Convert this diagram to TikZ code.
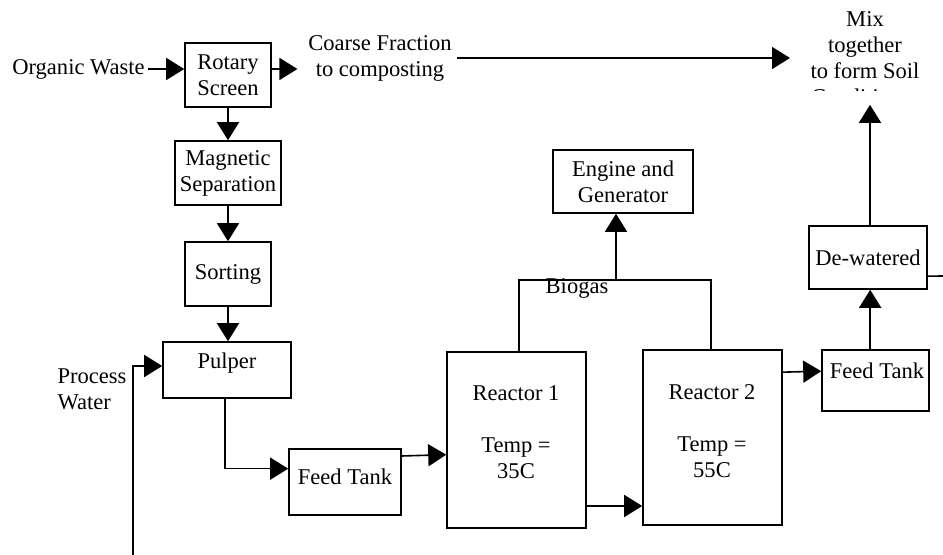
\documentclass[tikz,border=0pt]{standalone}
\usepackage{fontspec}
\setmainfont{Liberation Serif}
\usetikzlibrary{arrows.meta,calc}
\begin{document}
\begin{tikzpicture}[x=0.75pt,y=-0.75pt,
  font=\fontsize{16.9}{19.5}\selectfont,
  box/.style={draw,line width=1.2pt,inner sep=0pt,align=center},
  lbl/.style={inner sep=0pt,align=center},
  arr/.style={line width=1.2pt,-{Triangle[length=13.5pt,width=16.5pt]}},
  ln/.style={line width=1.2pt}]
\useasboundingbox (0,0) rectangle (943,555);
% boxes
\node[box,minimum width=64.5pt,minimum height=48pt] (rot) at (228,75) {Rotary\\Screen};
\node[box,minimum width=79.5pt,minimum height=48pt] (mag) at (228,173) {Magnetic\\Separation};
\node[box,minimum width=64.5pt,minimum height=48pt] (sort) at (228,274) {Sorting};
\node[box,minimum width=96pt,minimum height=42pt] (pulp) at (227,370) {};
\node[lbl] (pulpT) at (227,363) {Pulper};
\node[box,minimum width=84pt,minimum height=49.5pt] (ft1) at (345,482) {};
\node[lbl] (ft1T) at (345,477) {Feed Tank};
\node[box,minimum width=104.25pt,minimum height=132pt] (r1) at (516.5,440) {};
\node[lbl] (r1T) at (516,432) {Reactor 1\\[19.5pt]Temp =\\35C};
\node[box,minimum width=104.25pt,minimum height=131.25pt] (r2) at (712.5,437.5) {};
\node[lbl] (r2T) at (712,431) {Reactor 2\\[19.5pt]Temp =\\55C};
\node[box,minimum width=105pt,minimum height=47.25pt] (eng) at (623,181.5) {Engine and\\Generator};
\node[box,minimum width=80.25pt,minimum height=45.75pt] (ft2) at (875.5,380.5) {};
\node[lbl] (ft2T) at (877,371) {Feed Tank};
\node[box,minimum width=88.5pt,minimum height=47.25pt] (dew) at (868,257.5) {De-watered};
% labels
\node[lbl] (ow) at (78.5,69) {Organic Waste};
\node[lbl] (coarse) at (380,58) {Coarse Fraction\\to composting};
\begin{scope}
\clip (780,0) rectangle (943,91);
\node[lbl] (mix) at (865,58) {Mix\\together\\to form Soil\\Conditioner};
\end{scope}
\node[lbl] (bio) at (577,288) {Biogas};
\node[lbl,align=left] (pw) at (92,389) {Process\\Water};
% coordinates
\coordinate (mixin) at (790,58);
\coordinate (pwstart) at (133,555);
\coordinate (bg) at (616,280);
\coordinate (edge) at (943,276);
% connectors
\draw[arr] ([xshift=2pt]ow.east) -- (ow.east -| rot.west);
\draw[arr] (rot.east |- ow.east) -- ([xshift=-8pt]coarse.west |- ow.east);
\draw[arr,shorten <=3.75pt] (coarse.east) -- (mixin);
\draw[arr] (rot.south) -- (mag.north);
\draw[arr] (mag.south) -- (sort.north);
\draw[arr] (sort.south) -- (sort.south |- pulp.north);
\draw[arr] (pwstart) |- ([yshift=3pt]pulp.west);
\draw[arr] ([xshift=-1.5pt]pulp.south) |- ([yshift=10pt]ft1.west);
\draw[arr] ([yshift=19.5pt]ft1.east) -- ([yshift=-11pt]r1.west);
\draw[arr] ([yshift=-49.5pt]r1.east) -- ([yshift=-49.5pt]r1.east -| r2.west);
\draw[ln] ([xshift=2pt]r1.north) |- (bg) -| ([xshift=-1pt]r2.north);
\draw[arr] (bg) -- (bg |- eng.south);
\draw[arr] ([yshift=49pt]r2.east) -- ([yshift=7pt]ft2.west);
\draw[arr] ([xshift=-4pt]ft2.north) -- ([xshift=-4pt]ft2.north |- dew.south);
\draw[arr] ([xshift=1.5pt]dew.north) -- ([xshift=1.5pt]dew.north |- mix.south);
\draw[ln] ([yshift=-14pt]dew.east) -- (edge);
\end{tikzpicture}
\end{document}
